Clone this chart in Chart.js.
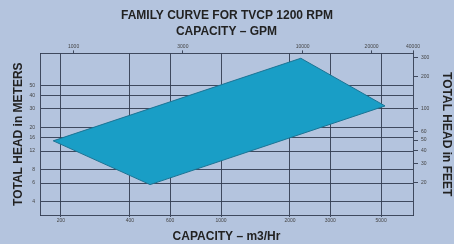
<!DOCTYPE html>
<html>
<head>
<meta charset="utf-8">
<script src="https://cdn.jsdelivr.net/npm/chart.js@4"></script>
<style>
  html, body { margin: 0; padding: 0; background: #b4c4de; }
  canvas { display: block; }
</style>
</head>
<body>
<canvas id="family-chart" width="454" height="244"></canvas>
<script>
// tick labels
const m3hTicks = [200, 400, 600, 1000, 2000, 3000, 5000];
const gpmTicks = [1000, 3000, 10000, 20000, 40000];
const meterTicks = [4, 6, 8, 12, 16, 20, 30, 40, 50];
const feetTicks = [20, 30, 40, 50, 60, 100, 200, 300];

// operating envelope (m3/Hr, meters), closed shape
const capacity = [185, 490, 5200, 2230, 185];
const head = [15, 5.8, 32, 90, 15];

const xMin = 162, xMax = 6890;
const yMin = 3, yMax = 100;
const GPM = 4.403;
const FT = 3.2808;

const gridColor = 'rgba(50, 60, 80, 0.9)';
const tickFont = { family: 'Liberation Sans', size: 5 };
const titleFont = { family: 'Liberation Sans', size: 12, weight: 'bold' };

function fixedTicks(list) {
    return scale => {
        scale.ticks = list.map(v => ({ value: Math.min(v, scale.max) }));
    };
}

function createFamilyChart() {
    const ctx = document.getElementById('family-chart').getContext('2d');
    new Chart(ctx, {
        type: 'scatter',
        data: {
            datasets: [{
                data: capacity.map((c, i) => ({ x: c, y: head[i] })),
                showLine: true,
                fill: 'shape',
                backgroundColor: '#199ec6',
                borderColor: '#1a7393',
                borderWidth: 1,
                pointRadius: 0,
                tension: 0
            }]
        },
        options: {
            responsive: false,
            animation: false,
            layout: { padding: 0 },
            plugins: {
                legend: { display: false },
                tooltip: { enabled: false },
                title: {
                    display: true,
                    text: 'FAMILY CURVE FOR TVCP 1200 RPM',
                    color: '#222',
                    font: titleFont,
                    padding: { top: 8, bottom: 0 }
                }
            },
            scales: {
                x: {
                    type: 'logarithmic',
                    position: 'bottom',
                    min: xMin,
                    max: xMax,
                    afterBuildTicks: fixedTicks(m3hTicks),
                    afterFit: s => { s.height = 29; },
                    ticks: {
                        autoSkip: false, maxRotation: 0, padding: 1,
                        color: '#444', font: tickFont,
                        callback: (v, i) => m3hTicks[i]
                    },
                    grid: { color: gridColor, tickLength: 2 },
                    border: { color: gridColor },
                    title: {
                        display: true, text: 'CAPACITY – m3/Hr',
                        color: '#222', font: titleFont, padding: { top: 7, bottom: 0 }
                    }
                },
                x2: {
                    type: 'logarithmic',
                    position: 'top',
                    min: xMin * GPM,
                    max: xMax * GPM,
                    afterBuildTicks: fixedTicks(gpmTicks),
                    afterFit: s => { s.height = 31; },
                    ticks: {
                        autoSkip: false, maxRotation: 0, padding: 1,
                        color: '#444', font: tickFont,
                        callback: (v, i) => gpmTicks[i]
                    },
                    grid: { drawOnChartArea: false, color: gridColor, tickLength: 3 },
                    border: { color: gridColor },
                    title: {
                        display: true, text: 'CAPACITY – GPM',
                        color: '#222', font: titleFont, padding: { top: 2, bottom: 2 }
                    }
                },
                y: {
                    type: 'logarithmic',
                    position: 'left',
                    min: yMin,
                    max: yMax,
                    afterBuildTicks: fixedTicks(meterTicks),
                    afterFit: s => { s.width = 40; },
                    ticks: {
                        autoSkip: false, padding: 5,
                        color: '#444', font: tickFont,
                        callback: (v, i) => meterTicks[i]
                    },
                    grid: { color: gridColor, tickLength: 0 },
                    border: { color: gridColor },
                    title: {
                        display: true, text: 'TOTAL HEAD in METERS',
                        color: '#222', font: titleFont,
                        padding: { top: 11, bottom: 2 }
                    }
                },
                y2: {
                    type: 'logarithmic',
                    position: 'right',
                    min: yMin * FT,
                    max: yMax * FT,
                    afterBuildTicks: fixedTicks(feetTicks),
                    afterFit: s => { s.width = 41; },
                    ticks: {
                        autoSkip: false, padding: 3,
                        color: '#444', font: tickFont,
                        callback: (v, i) => feetTicks[i]
                    },
                    grid: { drawOnChartArea: false, color: gridColor, tickLength: 5 },
                    border: { color: gridColor },
                    title: {
                        display: true, text: 'TOTAL HEAD in FEET',
                        color: '#222', font: titleFont,
                        padding: { top: 0, bottom: 2 }
                    }
                }
            }
        }
    });
}

createFamilyChart();
</script>
</body>
</html>
